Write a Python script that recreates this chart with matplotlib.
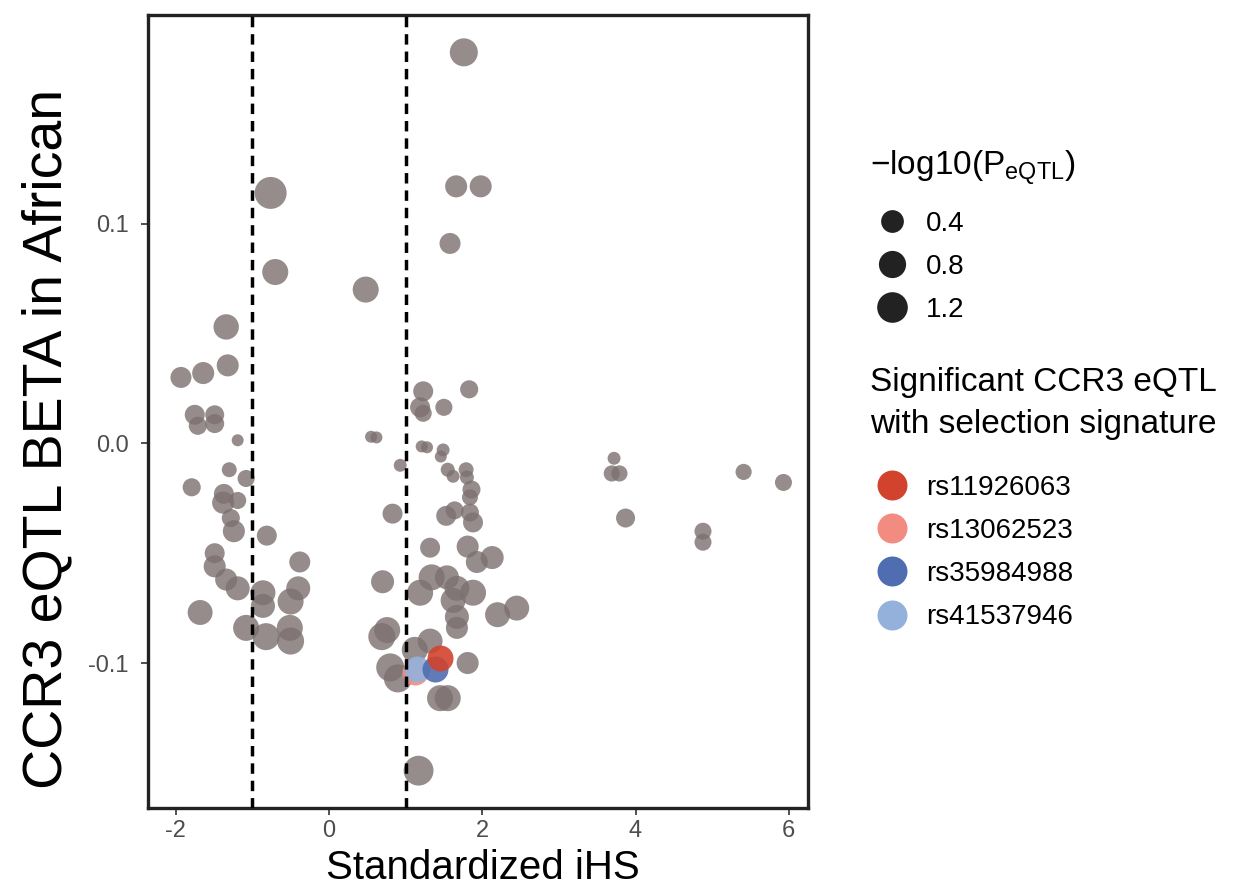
import matplotlib
matplotlib.use("Agg")
import matplotlib.pyplot as plt
from matplotlib.lines import Line2D
import numpy as np

plt.rcParams['font.family'] = ['Liberation Sans', 'DejaVu Sans']
plt.rcParams['mathtext.fontset'] = 'custom'
plt.rcParams['mathtext.rm'] = 'Liberation Sans'
plt.rcParams['mathtext.it'] = 'Liberation Sans'
plt.rcParams['axes.unicode_minus'] = False

# ---- data: standardized iHS, eQTL beta, -log10(P) ----
ihs = [1.76, -0.76, 1.66, 1.98, 1.58, -0.70, 0.48, -1.34,
       -1.32, -1.64, -1.93, -1.75, -1.71, -1.49, -1.49, -1.19, -1.30, -1.08, -1.79,
       -1.37, -1.19, -1.38, -1.28, -1.24, -0.81, -1.49, -1.49, -0.38, -1.34, -1.19,
       -0.86, -0.40, -0.50, -0.86, -1.68, -1.08, -0.82, -0.51, -0.50,
       1.23, 1.83, 1.19, 1.23, 1.50, 0.55, 0.62, 1.21, 1.28, 1.49, 1.46, 0.93,
       1.55, 1.62, 1.79, 1.80, 1.86, 1.84, 0.83, 1.64, 1.53, 1.84, 1.88, 1.32,
       1.81, 1.93, 2.13, 0.70, 1.34, 1.54, 1.19, 1.67, 1.88, 1.62, 2.20, 2.45,
       1.67, 1.67, 0.76, 0.69, 1.32, 1.12, 1.81, 0.80, 0.90, 1.45, 1.55, 1.17,
       3.72, 3.69, 3.79, 3.87, 4.88, 4.88, 5.41, 5.93]
beta = [0.178, 0.114, 0.117, 0.117, 0.091, 0.078, 0.070, 0.053,
        0.0355, 0.032, 0.030, 0.013, 0.008, 0.013, 0.009, 0.0014, -0.012, -0.016, -0.020,
        -0.023, -0.026, -0.027, -0.034, -0.040, -0.042, -0.050, -0.056, -0.054, -0.062, -0.066,
        -0.068, -0.066, -0.072, -0.074, -0.077, -0.084, -0.088, -0.084, -0.090,
        0.0237, 0.0246, 0.0164, 0.0137, 0.0164, 0.003, 0.0027, -0.0014, -0.0018, -0.003, -0.006, -0.010,
        -0.012, -0.015, -0.012, -0.0155, -0.021, -0.0246, -0.032, -0.0305, -0.033, -0.0315, -0.036, -0.0475,
        -0.047, -0.054, -0.052, -0.063, -0.061, -0.061, -0.068, -0.066, -0.068, -0.0715, -0.078, -0.075,
        -0.079, -0.084, -0.085, -0.088, -0.090, -0.094, -0.100, -0.102, -0.107, -0.116, -0.116, -0.149,
        -0.0068, -0.0137, -0.0137, -0.034, -0.040, -0.045, -0.013, -0.0178]
logp = [0.89, 1.38, 0.35, 0.35, 0.28, 0.68, 0.68, 0.62,
        0.35, 0.35, 0.28, 0.22, 0.13, 0.17, 0.17, 0.0, 0.03, 0.09, 0.13,
        0.22, 0.09, 0.35, 0.13, 0.35, 0.22, 0.22, 0.35, 0.28, 0.35, 0.50,
        0.58, 0.50, 0.68, 0.50, 0.58, 0.68, 0.78, 0.68, 0.78,
        0.22, 0.13, 0.22, 0.09, 0.09, 0.0, 0.0, 0.0, 0.0, 0.003, 0.0, 0.003,
        0.014, 0.003, 0.03, 0.014, 0.125, 0.055, 0.22, 0.125, 0.22, 0.125, 0.22, 0.22,
        0.35, 0.35, 0.42, 0.42, 0.68, 0.50, 0.68, 0.58, 0.68, 0.58, 0.58, 0.58,
        0.50, 0.35, 0.68, 0.78, 0.58, 0.68, 0.35, 0.89, 0.89, 0.68, 0.68, 1.10,
        0.003, 0.06, 0.06, 0.17, 0.087, 0.087, 0.06, 0.087]

sig_names = ['rs11926063', 'rs13062523', 'rs35984988', 'rs41537946']
sig_ihs = [1.45, 1.12, 1.38, 1.15]
sig_beta = [-0.0975, -0.104, -0.1025, -0.1025]
sig_logp = [0.68, 0.68, 0.68, 0.68]
sig_colors = ['#D2432E', '#F28C80', '#4F6DB0', '#93B1DB']
draw_order = [1, 3, 2, 0]

legend_sizes = [0.4, 0.8, 1.2]
thresholds = [-1, 1]
xticks = [-2, 0, 2, 4, 6]
yticks = [-0.1, 0.0, 0.1]

def size_pts2(p):
    d_px = 12 + 17 * np.sqrt(np.asarray(p, dtype=float))
    return (d_px * 0.72) ** 2

fig = plt.figure(figsize=(12.47, 8.94), dpi=100)
ax = fig.add_axes([148/1247, 86/894, 660/1247, 793/894])

gray = '#7c7070'
ax.scatter(ihs, beta, s=size_pts2(logp), color=gray, alpha=0.8, linewidths=0, zorder=2)
for i in draw_order:
    ax.scatter([sig_ihs[i]], [sig_beta[i]], s=size_pts2([sig_logp[i]]), color=sig_colors[i],
               alpha=0.9, linewidths=0, zorder=3)

for t in thresholds:
    ax.axvline(t, color='black', linestyle=(0, (3.0, 2.0)), linewidth=2.5, zorder=4)

ax.set_xlim(-2.36, 6.25)
ax.set_ylim(-0.166, 0.195)
ax.set_xticks(xticks)
ax.set_yticks(yticks)
ax.set_xticklabels([str(v) for v in xticks])
ax.set_yticklabels(['-0.1', '0.0', '0.1'])
ax.tick_params(axis='both', colors='#333333', labelcolor='#4d4d4d', labelsize=17,
               length=5, width=1.2, direction='out')
ax.tick_params(axis='y', pad=9)
for sp in ax.spines.values():
    sp.set_linewidth(2.4)
    sp.set_color('#222222')

ax.set_xlabel('Standardized iHS', fontsize=29, labelpad=2)
ax.xaxis.set_label_coords(0.508, -0.052)
ax.xaxis.label.set_va('top')
ax.set_ylabel('CCR3 eQTL BETA in African', fontsize=40)
ax.yaxis.set_label_coords(-0.113, 0.465)

# size legend
size_handles = [Line2D([], [], linestyle='none', marker='o', markersize=np.sqrt(size_pts2([v])[0]),
                       markerfacecolor='#222222', markeredgewidth=0) for v in legend_sizes]
leg1 = fig.legend(size_handles, [str(v) for v in legend_sizes],
                  title='\u2212log10(P$_{\\mathrm{eQTL}}$)', loc='upper left',
                  bbox_to_anchor=(859/1247, 1 - 138/894), frameon=False, fontsize=20,
                  title_fontsize=24, alignment='left', handletextpad=0.4,
                  labelspacing=0.62, borderaxespad=0, handlelength=1.6)
leg1._legend_box.sep = 16

sig_handles = [Line2D([], [], linestyle='none', marker='o', markersize=np.sqrt(size_pts2([1.12])[0]),
                      markerfacecolor=c, markeredgewidth=0) for c in sig_colors]
leg2 = fig.legend(sig_handles, sig_names, title='Significant CCR3 eQTL\nwith selection signature',
                  loc='upper left', bbox_to_anchor=(859/1247, 1 - 356/894), frameon=False,
                  fontsize=20, title_fontsize=24, alignment='left', handletextpad=0.4,
                  labelspacing=0.62, borderaxespad=0, handlelength=1.6)
leg2.get_title().set_linespacing(1.45)
leg2._legend_box.sep = 25

fig.savefig('out.png', dpi=100)
